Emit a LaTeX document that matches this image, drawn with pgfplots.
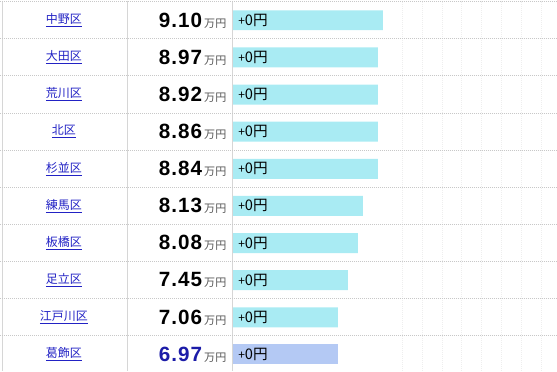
\documentclass[border=0pt]{standalone}
\usepackage{pgfplots}
\pgfplotsset{compat=1.18}
\usepackage{pgfplotstable}
\usepackage{fontspec}
\setmainfont{Noto Sans CJK JP}
\newfontfamily\cjk{Noto Sans CJK JP}
\newfontfamily\numfont[LetterSpace=5]{Liberation Sans}
\definecolor{barcyan}{HTML}{A9EBF3}
\definecolor{barblue}{HTML}{B4C9F4}
\definecolor{linkblue}{HTML}{2222C4}
\definecolor{numblue}{HTML}{1C1CA8}
\definecolor{unitgray}{HTML}{555555}
\definecolor{sepgray}{HTML}{C8C8C8}
\definecolor{colgray}{HTML}{D6D6D6}
\definecolor{faintgray}{HTML}{EEEEEE}

\pgfplotstableread{
y     name    val   base barc barb
19.8  中野区   9.10  233  150  0
57.0  大田区   8.97  233  145  0
94.2  荒川区   8.92  233  145  0
131.4 北区     8.86  233  145  0
168.6 杉並区   8.84  233  145  0
205.8 練馬区   8.13  233  130  0
243.0 板橋区   8.08  233  125  0
280.2 足立区   7.45  233  115  0
317.4 江戸川区 7.06  233  105  0
354.6 葛飾区   6.97  233  0    105
}\rows
\pgfplotstableread{
y     name    val
19.8  中野区   9.10
57.0  大田区   8.97
94.2  荒川区   8.92
131.4 北区     8.86
168.6 杉並区   8.84
205.8 練馬区   8.13
243.0 板橋区   8.08
280.2 足立区   7.45
317.4 江戸川区 7.06
}\blackrows
\pgfplotstableread{
y     name    val
354.6 葛飾区   6.97
}\lastrow

\begin{document}
\begin{tikzpicture}
\begin{axis}[
  scale only axis, width=417.75pt, height=278.25pt,
  xmin=0, xmax=557, ymin=0, ymax=371, y dir=reverse,
  axis lines=none, clip=false, xtick=\empty, ytick=\empty,
  unbounded coords=jump,
]
\addplot[draw=none] coordinates {(0,0) (557,371)};
% faint vertical lines in the bar column
\addplot[faintgray, line width=0.6pt, dash pattern=on 0.75pt off 0.75pt] coordinates {
 (403,0) (403,371) (nan,nan) (423,0) (423,371) (nan,nan) (443,0) (443,371) (nan,nan)
 (462,0) (462,371) (nan,nan) (482,0) (482,371) (nan,nan) (502,0) (502,371) (nan,nan)
 (522,0) (522,371) (nan,nan) (542,0) (542,371)};
% column separators
\addplot[colgray, line width=0.75pt] coordinates {
 (2,0) (2,371) (nan,nan) (127,0) (127,371) (nan,nan) (232,0) (232,371)};
% row separators
\addplot[sepgray, line width=0.75pt, dash pattern=on 0.75pt off 0.75pt] coordinates {
 (0,1) (557,1) (nan,nan) (0,38.3) (557,38.3) (nan,nan) (0,75.5) (557,75.5) (nan,nan)
 (0,112.7) (557,112.7) (nan,nan) (0,149.9) (557,149.9) (nan,nan) (0,187.1) (557,187.1) (nan,nan)
 (0,224.3) (557,224.3) (nan,nan) (0,261.5) (557,261.5) (nan,nan) (0,298.7) (557,298.7) (nan,nan)
 (0,335.9) (557,335.9)};
\end{axis}
\begin{axis}[
  scale only axis, width=417.75pt, height=278.25pt,
  xmin=0, xmax=557, ymin=0, ymax=371, y dir=reverse,
  axis lines=none, clip=false, xtick=\empty, ytick=\empty,
  xbar stacked, bar width=20,
]
\addplot[draw=none, fill=none] table[x=base, y=y] {\rows};
\addplot[draw=none, fill=barcyan] table[x=barc, y=y] {\rows};
\addplot[draw=none, fill=barblue] table[x=barb, y=y] {\rows};
\end{axis}
\begin{axis}[
  scale only axis, width=417.75pt, height=278.25pt,
  xmin=0, xmax=557, ymin=0, ymax=371, y dir=reverse,
  axis lines=none, clip=false, xtick=\empty, ytick=\empty,
]
% district names
\addplot[only marks, mark=none, point meta=explicit symbolic,
  nodes near coords={\fontsize{9pt}{10pt}\selectfont\cjk\color{linkblue}\underline{\pgfplotspointmeta}},
  nodes near coords align={anchor=center}]
  table[x expr=63.5, y=y, meta=name] {\rows};
% values
\addplot[only marks, mark=none, point meta=explicit symbolic,
  nodes near coords={{\fontsize{15.5pt}{17pt}\selectfont\numfont\bfseries\pgfplotspointmeta}\hspace{1.5pt}{\fontsize{8.3pt}{10pt}\selectfont\cjk\color{unitgray}万円}},
  nodes near coords align={anchor=east, inner sep=0pt}]
  table[x expr=226.5, y=y, meta=val] {\blackrows};
\addplot[only marks, mark=none, point meta=explicit symbolic,
  nodes near coords={{\fontsize{15.5pt}{17pt}\selectfont\numfont\bfseries\color{numblue}\pgfplotspointmeta}\hspace{1.5pt}{\fontsize{8.3pt}{10pt}\selectfont\cjk\color{unitgray}万円}},
  nodes near coords align={anchor=east, inner sep=0pt}]
  table[x expr=226.5, y=y, meta=val] {\lastrow};
% change labels
\addplot[only marks, mark=none, point meta=explicit symbolic,
  nodes near coords={\fontsize{11pt}{12pt}\selectfont\cjk{\fontsize{9pt}{12pt}\selectfont +}0円},
  nodes near coords align={anchor=west, inner sep=0pt}]
  table[x expr=238, y=y, meta=name] {\rows};
\end{axis}
\end{tikzpicture}
\end{document}
